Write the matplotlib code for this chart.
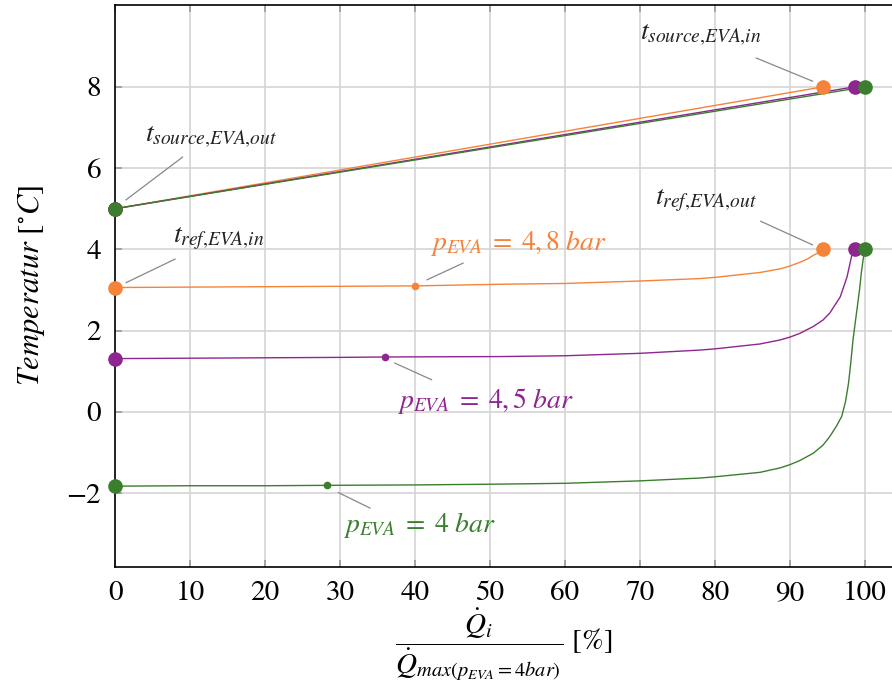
import matplotlib
matplotlib.use("Agg")
import matplotlib.pyplot as plt

plt.rcParams["font.family"] = "STIXGeneral"
plt.rcParams["mathtext.fontset"] = "stix"

# source side (t_source,EVA,out -> t_source,EVA,in)
src_x_48 = [0, 94.4]
src_x_45 = [0, 98.6]
src_x_40 = [0, 100.0]
src_y = [5.0, 8.0]

# refrigerant side, p_EVA = 4,8 bar
ref_x_48 = [0, 10, 20, 30, 40, 51.3, 60, 70, 78, 80, 86, 88.7, 90, 91.3, 92.3, 93.1, 93.8, 94.4]
ref_y_48 = [3.06, 3.07, 3.08, 3.09, 3.10, 3.14, 3.16, 3.22, 3.28, 3.31, 3.43, 3.52, 3.59, 3.68,
            3.76, 3.85, 3.92, 4.0]

# p_EVA = 4,5 bar
ref_x_45 = [0, 10, 20, 30, 36, 51.3, 60, 70, 78, 80, 86, 88.7, 90, 91.3, 93.1, 94.4, 95.3,
            96.7, 97.6, 98.2, 98.6]
ref_y_45 = [1.31, 1.32, 1.33, 1.34, 1.35, 1.36, 1.38, 1.44, 1.52, 1.55, 1.67, 1.77, 1.84, 1.93,
            2.10, 2.26, 2.43, 2.83, 3.32, 3.82, 4.0]

# p_EVA = 4 bar
ref_x_40 = [0, 10, 20, 28.3, 40, 51.3, 60, 70, 78, 80, 86, 88.7, 90, 91.3, 93.1, 94.4, 95.3,
            96.2, 96.9, 97.4, 97.8, 98.1, 98.4, 98.7, 98.98, 99.3, 99.5, 99.75, 100.0]
ref_y_40 = [-1.83, -1.82, -1.82, -1.81, -1.80, -1.78, -1.76, -1.70, -1.63, -1.60, -1.49, -1.38,
            -1.30, -1.20, -1.02, -0.82, -0.61, -0.35, -0.11, 0.25, 0.70, 1.2, 1.77, 2.2, 2.59,
            3.05, 3.41, 3.75, 4.0]

# highlighted operating points
mid_x = [40, 36, 28.3]
mid_y = [3.10, 1.35, -1.81]

x_ticks = [0, 10, 20, 30, 40, 50, 60, 70, 80, 90, 100]
y_ticks = [-2, 0, 2, 4, 6, 8]

c48 = "#F5833A"
c45 = "#8E2590"
c40 = "#3B7E2E"

fig = plt.figure(figsize=(8.92, 6.86), dpi=100)
ax = fig.add_axes([0.129, 0.1735, 0.871, 0.8195])

ax.set_xlim(0, 103.6)
ax.set_ylim(-3.82, 10.02)
ax.set_xticks(x_ticks)
ax.set_yticks(y_ticks)
ax.set_yticklabels(["\u22122" if v == -2 else str(v) for v in y_ticks])
ax.grid(True, color="#d4d4d4", lw=1.2)
ax.set_axisbelow(True)
ax.tick_params(direction="in", length=5, width=1.2, color="#999999", labelsize=21,
               top=True, right=False, pad=10)
for s in ["left", "bottom", "top"]:
    ax.spines[s].set_linewidth(1.2)
ax.spines["right"].set_visible(False)

big = 9.5
small = 4.5

# source lines
for xs, c in [(src_x_48, c48), (src_x_45, c45), (src_x_40, c40)]:
    ax.plot(xs, src_y, color=c, lw=1.0, zorder=3)
    ax.plot(xs, src_y, "o", color=c, ms=big, zorder=4, clip_on=False)

# refrigerant lines
for xs, ys, c in [(ref_x_48, ref_y_48, c48), (ref_x_45, ref_y_45, c45), (ref_x_40, ref_y_40, c40)]:
    ax.plot(xs, ys, color=c, lw=1.0, zorder=3)
    ax.plot([xs[0], xs[-1]], [ys[0], ys[-1]], "o", color=c, ms=big, zorder=4, clip_on=False)

for i, c in enumerate([c48, c45, c40]):
    ax.plot(mid_x[i], mid_y[i], "o", color=c, ms=small, zorder=4)

# leader lines
lead = dict(color="#888888", lw=0.9, zorder=2)
ax.plot([1.47, 9.0], [5.22, 6.27], **lead)
ax.plot([1.47, 8.0], [3.18, 3.76], **lead)
ax.plot([85.5, 93.0], [8.71, 8.14], **lead)
ax.plot([86.1, 93.0], [4.69, 4.11], **lead)
ax.plot([41.6, 46.4], [3.25, 3.66], **lead)
ax.plot([37.3, 42.2], [1.20, 0.79], **lead)
ax.plot([29.8, 34.0], [-1.99, -2.37], **lead)

fs = 20
ax.text(4.0, 6.65, r"$t_{source{,}EVA{,}out}$", fontsize=fs, color="#222222")
ax.text(7.7, 4.16, r"$t_{ref{,}EVA{,}in}$", fontsize=fs, color="#222222")
ax.text(70.0, 9.16, r"$t_{source{,}EVA{,}in}$", fontsize=fs, color="#222222")
ax.text(72.0, 5.10, r"$t_{ref{,}EVA{,}out}$", fontsize=fs, color="#222222")
ax.text(42.0, 3.99, r"$p_{EVA}\;=\;4{,}\,8\ bar$", fontsize=fs, color=c48)
ax.text(37.6, 0.10, r"$p_{EVA}\;=\;4{,}\,5\ bar$", fontsize=fs, color=c45)
ax.text(30.4, -2.95, r"$p_{EVA}\;=\;4\ bar$", fontsize=fs, color=c40)

ax.set_ylabel(r"$Temperatur\ [^{\circ}C]$", fontsize=22, labelpad=14)
ax.set_xlabel(r"$\dfrac{\dot{Q}_i}{\dot{Q}_{max(p_{EVA}=4bar)}}\ [\%]$", fontsize=21, labelpad=0)

fig.savefig("out.png", dpi=100)
